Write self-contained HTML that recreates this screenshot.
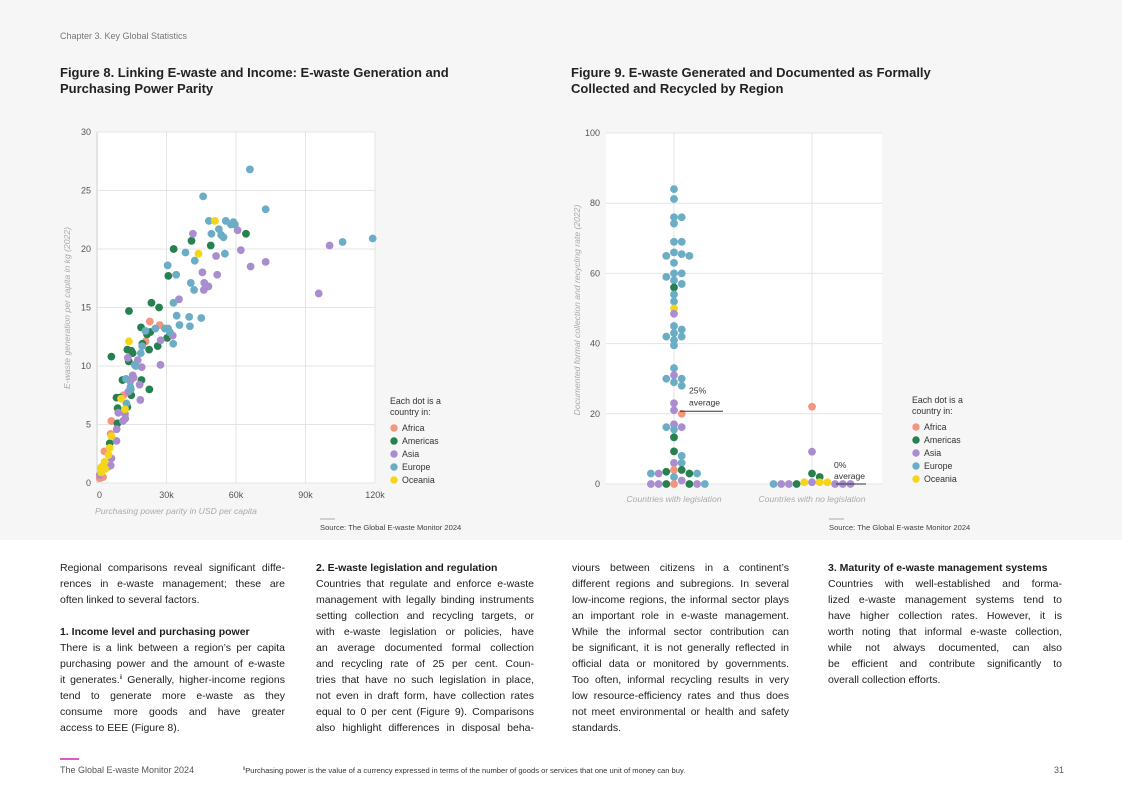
<!DOCTYPE html>
<html><head><meta charset="utf-8">
<style>
*{margin:0;padding:0;box-sizing:border-box}
body{width:1122px;height:793px;background:#fff;font-family:"Liberation Sans",sans-serif;color:#1e1e1e;position:relative;overflow:hidden}
#top{position:absolute;left:0;top:0;width:1122px;height:540px;background:#f6f6f6}
.abs{position:absolute;white-space:nowrap}
.title{font-weight:bold;font-size:13px;line-height:16px;color:#222}
.col{position:absolute;top:560px;font-size:10.5px;line-height:16px}
.col div{white-space:nowrap;text-align:justify;text-align-last:justify;height:16px;overflow:visible}
.col div.l{text-align-last:left}
.col b{font-weight:bold}
.sup{font-size:6px;vertical-align:4px;line-height:0}
</style></head><body>
<div id="top"></div>
<div class="abs" style="left:60px;top:31px;font-size:9px;color:#777">Chapter 3. Key Global Statistics</div>
<div class="abs title" style="left:60px;top:65px">Figure 8. Linking E-waste and Income: E-waste Generation and<br>Purchasing Power Parity</div>
<div class="abs title" style="left:571px;top:65px">Figure 9. E-waste Generated and Documented as Formally<br>Collected and Recycled by Region</div>

<svg id="chart" width="1122" height="540" style="position:absolute;left:0;top:0" font-family="Liberation Sans, sans-serif"></svg>

<div class="col" style="left:60px;width:225px">
<div>Regional comparisons reveal significant diffe-</div>
<div>rences in e-waste management; these are</div>
<div class="l">often linked to several factors.</div>
<div class="l"></div>
<div class="l"><b>1. Income level and purchasing power</b></div>
<div>There is a link between a region’s per capita</div>
<div>purchasing power and the amount of e-waste</div>
<div>it generates.<span class="sup">ii</span> Generally, higher-income regions</div>
<div>tend to generate more e-waste as they</div>
<div>consume more goods and have greater</div>
<div class="l">access to EEE (Figure 8).</div>
</div>
<div class="col" style="left:316px;width:218px">
<div class="l"><b>2. E-waste legislation and regulation</b></div>
<div>Countries that regulate and enforce e-waste</div>
<div>management with legally binding instruments</div>
<div>setting collection and recycling targets, or</div>
<div>with e-waste legislation or policies, have</div>
<div>an average documented formal collection</div>
<div>and recycling rate of 25 per cent. Coun-</div>
<div>tries that have no such legislation in place,</div>
<div>not even in draft form, have collection rates</div>
<div>equal to 0 per cent (Figure 9). Comparisons</div>
<div>also highlight differences in disposal beha-</div>
</div>
<div class="col" style="left:572px;width:217px">
<div>viours between citizens in a continent’s</div>
<div>different regions and subregions. In several</div>
<div>low-income regions, the informal sector plays</div>
<div>an important role in e-waste management.</div>
<div>While the informal sector contribution can</div>
<div>be significant, it is not generally reflected in</div>
<div>official data or monitored by governments.</div>
<div>Too often, informal recycling results in very</div>
<div>low resource-efficiency rates and thus does</div>
<div>not meet environmental or health and safety</div>
<div class="l">standards.</div>
</div>
<div class="col" style="left:828px;width:234px">
<div class="l"><b>3. Maturity of e-waste management systems</b></div>
<div>Countries with well-established and forma-</div>
<div>lized e-waste management systems tend to</div>
<div>have higher collection rates. However, it is</div>
<div>worth noting that informal e-waste collection,</div>
<div>while not always documented, can also</div>
<div>be efficient and contribute significantly to</div>
<div class="l">overall collection efforts.</div>
</div>

<div class="abs" style="left:60px;top:758px;width:19px;height:1.5px;background:#e05ac0"></div>
<div class="abs" style="left:60px;top:765px;font-size:9px;color:#555">The Global E-waste Monitor 2024</div>
<div class="abs" style="left:243px;top:766px;font-size:7.6px;color:#333"><span class="sup" style="font-size:5px;vertical-align:3px">ii</span>Purchasing power is the value of a currency expressed in terms of the number of goods or services that one unit of money can buy.</div>
<div class="abs" style="left:1054px;top:765px;font-size:9px;color:#555">31</div>

<script>
// ---- Figure 8 data (x: PPP in thousand USD, y: kg per capita) ----
const regions = ["Africa","Americas","Asia","Europe","Oceania"];
const regionColors = ["#f4957f","#27804f","#a98dcf","#6badc5","#f4d51a"];
const xTicks = [0,30,60,90,120];
const xTickLabels = ["0","30k","60k","90k","120k"];
const yTicks = [0,5,10,15,20,25,30];
const africaX = [22.8,27.1,21.0,6.2,5.9,3.2,1.2,2.6,11.4,4.9,2.3];
const africaY = [13.8,13.5,12.1,5.3,4.2,2.7,0.4,0.5,7.5,1.4,1.4];
const americasX = [6.2,13.8,23.5,26.8,19.0,21.6,23.0,22.5,26.2,30.3,30.8,33.1,40.8,49.1,64.3,13.1,14.8,15.4,13.7,11.0,19.2,22.6,14.8,8.4,9.8,8.9,13.1,8.8,5.5,19.6];
const americasY = [10.8,14.7,15.4,15.0,13.3,12.7,12.9,11.4,11.7,12.4,17.7,20.0,20.7,20.3,21.3,11.4,11.3,11.1,10.4,8.8,8.8,8.0,7.5,7.3,7.3,6.4,6.5,5.1,3.4,11.9];
const asiaX = [41.4,60.7,62.1,51.4,66.3,72.8,45.5,51.9,46.3,48.1,46.1,35.4,100.4,95.7,27.5,32.7,27.4,19.3,13.3,17.6,15.4,15.8,14.4,18.4,18.7,13.5,9.2,12.1,12.2,11.2,8.5,8.4,6.2,5.9,1.2];
const asiaY = [21.3,21.6,19.9,19.4,18.5,18.9,18.0,17.8,17.1,16.8,16.5,15.7,20.3,16.2,12.2,12.6,10.1,9.9,10.7,10.5,9.2,9.0,8.7,8.4,7.1,7.8,6.0,5.9,5.5,5.3,4.6,3.6,2.1,1.5,0.7];
const europeX = [66.0,45.8,72.8,48.3,55.6,58.9,57.8,59.5,52.6,49.4,53.6,54.6,119,106,38.2,55.2,42.2,30.5,34.2,40.5,41.9,33.0,34.4,39.8,45.0,35.6,40.1,30.7,29.3,31.4,20.9,25.2,32.9,19.5,18.9,16.3,16.7,12.5,14.4,14.6,12.7];
const europeY = [26.8,24.5,23.4,22.4,22.4,22.3,22.1,22.1,21.7,21.3,21.2,21.0,20.9,20.6,19.7,19.6,19.0,18.6,17.8,17.1,16.5,15.4,14.3,14.2,14.1,13.5,13.4,13.2,13.2,12.9,13.0,13.2,11.9,11.7,11.1,10.1,10.0,8.9,8.2,8.0,6.8];
const oceaniaX = [50.9,43.8,13.8,10.4,12.1,6.2,5.5,5.0,3.3,1.6,3.6,1.8];
const oceaniaY = [22.4,19.6,12.1,7.2,6.3,4.0,3.0,2.4,1.8,1.3,1.2,0.9];

// ---- Figure 9 data (collection rate %) ----
const categories = ["Countries with legislation","Countries with no legislation"];
const y2Ticks = [0,20,40,60,80,100];
const legEurope = [84,81.2,76,76,74.2,69,69,66,65.5,65,65,63,60,60,59,58,57,54,52,45,44,43,42,42,41,39.5,33,30,30,29,28,16.2,15.5,8,6,3,3,2,0];
const legAmericas = [56,13.3,9.3,4,3.5,3,0,0];
const legAsia = [48.5,31,23,21,17,16.2,6,3,1,0,0,0];
const legAfrica = [20,4,0];
const legOceania = [50];
const noAfrica = [22];
const noAsia = [9.2,0.5,0,0,0,0,0];
const noAmericas = [3,2,0];
const noOceania = [0.5,0.5,0.5];
const noEurope = [0];
const averages = [25,0];
const averageLabels = ["25%","0%"];

const NS="http://www.w3.org/2000/svg";
const svg=document.getElementById('chart');
function el(tag,attrs,parent){const e=document.createElementNS(NS,tag);for(const k in attrs)e.setAttribute(k,attrs[k]);(parent||svg).appendChild(e);return e;}
function txt(s,attrs,parent){const e=el('text',attrs,parent);e.textContent=s;return e;}

// Figure 8 axes
const L1=97,R1=375,T1=132,B1=483;
const sx1=v=>L1+(v-0)/(120-0)*(R1-L1);
const sy1=v=>B1-(v/30)*(B1-T1);
const g1=el('g',{});


el('rect',{x:L1,y:T1,width:R1-L1,height:B1-T1,fill:'#fff'},g1);
yTicks.forEach(t=>{
  el('line',{x1:L1,x2:R1,y1:sy1(t),y2:sy1(t),stroke:'#e4e4e4','stroke-width':1},g1);
  const lb=txt(String(t),{x:L1-6,y:sy1(t)+3,'text-anchor':'end','font-size':9,fill:'#555'},g1);
  
  
});
xTicks.forEach((t,i)=>{
  el('line',{x1:sx1(t),x2:sx1(t),y1:T1,y2:B1,stroke:'#e4e4e4','stroke-width':1},g1);
  const lb=txt(xTickLabels[i],{x:sx1(t),y:B1+15,'text-anchor':i==0?'start':'middle','font-size':9,fill:'#555'},g1);
  
  
});
el('line',{x1:L1,x2:L1,y1:T1,y2:B1,stroke:'#cfcfcf'},g1);
const yt=txt('E-waste generation per capita in kg (2022)',{transform:'translate(70,308) rotate(-90)','text-anchor':'middle','font-size':8.6,'font-style':'italic',fill:'#aaa'},g1);


const xt=txt('Purchasing power parity in USD per capita',{x:95,y:514,'font-size':8.6,'font-style':'italic',fill:'#aaa'},g1);


const series1=[[africaX,africaY],[americasX,americasY],[asiaX,asiaY],[europeX,europeY],[oceaniaX,oceaniaY]];
series1.forEach((s,ri)=>{
  s[0].forEach((xv,i)=>{
    const c=el('circle',{cx:sx1(xv),cy:sy1(s[1][i]),r:3.9,fill:regionColors[ri]},g1);
    
    
  });
});

// Figure 9 axes
const L2=606,R2=882,T2=133,B2=484;
const catX=[674,812];
const sy2=v=>B2-(v/100)*(B2-T2);
const g2=el('g',{});


el('rect',{x:L2,y:T2,width:R2-L2,height:B2-T2,fill:'#fff'},g2);
y2Ticks.forEach(t=>{
  el('line',{x1:L2,x2:R2,y1:sy2(t),y2:sy2(t),stroke:'#e4e4e4'},g2);
  const lb=txt(String(t),{x:L2-6,y:sy2(t)+3,'text-anchor':'end','font-size':9,fill:'#555'},g2);
  
  
});
categories.forEach((c,i)=>{
  el('line',{x1:catX[i],x2:catX[i],y1:T2,y2:B2,stroke:'#e4e4e4'},g2);
  const lb=txt(c,{x:catX[i],y:B2+18,'text-anchor':'middle','font-size':8.6,'font-style':'italic',fill:'#aaa'},g2);
  
  
});
const yt2=txt('Documented formal collection and recycling rate (2022)',{transform:'translate(580,310) rotate(-90)','text-anchor':'middle','font-size':8.6,'font-style':'italic',fill:'#aaa'},g2);


// beeswarm layout (overlap allowed somewhat)
function swarm(list,cx){
  const placed=[];const d=7.7,minD=5;
  list.forEach(p=>{
    const y=sy2(p.v);let k=0,x=cx;
    for(;;){
      const off=Math.ceil(k/2)*d*(k%2?1:-1);x=cx+off;
      if(!placed.some(q=>Math.hypot(q.x-x,q.y-y)<minD))break;k++;
    }
    placed.push({x,y,c:p.c});
  });
  return placed;
}
const leg=[[legAfrica,0],[legAmericas,1],[legAsia,2],[legEurope,3],[legOceania,4]];
const nol=[[noAfrica,0],[noAmericas,1],[noAsia,2],[noEurope,3],[noOceania,4]];
[leg,nol].forEach((grp,gi)=>{
  const list=[];grp.forEach(([arr,ri])=>arr.forEach(v=>list.push({v,c:ri})));
  list.sort((a,b)=>b.v-a.v);
  swarm(list,catX[gi]).forEach(p=>{
    const c=el('circle',{cx:p.x,cy:p.y,r:3.9,fill:regionColors[p.c]},g2);
    
    
  });
});
// averages annotations
const av1=el('g',{},g2);


el('line',{x1:680,x2:723,y1:sy2(averages[0])+15,y2:sy2(averages[0])+15,stroke:'#333','stroke-width':1},av1);
txt(averageLabels[0],{x:689,y:sy2(averages[0])-3,'font-size':8.6,fill:'#333'},av1);
txt('average',{x:689,y:sy2(averages[0])+9,'font-size':8.6,fill:'#333'},av1);
const av2=el('g',{},g2);


el('line',{x1:836,x2:866,y1:sy2(averages[1]),y2:sy2(averages[1]),stroke:'#333','stroke-width':1},av2);
txt(averageLabels[1],{x:834,y:sy2(averages[1])-16,'font-size':8.6,fill:'#333'},av2);
txt('average',{x:834,y:sy2(averages[1])-5,'font-size':8.6,fill:'#333'},av2);

// legends
function legend(x,y,name){
  const g=el('g',{});
  
  
  txt('Each dot is a',{x:x,y:y,'font-size':8.8,fill:'#333'},g);
  txt('country in:',{x:x,y:y+11,'font-size':8.8,fill:'#333'},g);
  regions.forEach((r,i)=>{
    const e=el('g',{},g);
    
    
    el('circle',{cx:x+4,cy:y+24+i*13,r:3.7,fill:regionColors[i]},e);
    txt(r,{x:x+12,y:y+27+i*13,'font-size':8.8,fill:'#333'},e);
  });
}
legend(390,404,'legend-figure-8');
legend(912,403,'legend-figure-9');

// source notes
[[320,'source-figure-8'],[829,'source-figure-9']].forEach(([x,n])=>{
  const g=el('g',{});
  
  
  el('line',{x1:x,x2:x+15,y1:519,y2:519,stroke:'#999','stroke-width':0.8},g);
  txt('Source: The Global E-waste Monitor 2024',{x:x,y:530,'font-size':7.6,fill:'#444'},g);
});
</script>
</body></html>
